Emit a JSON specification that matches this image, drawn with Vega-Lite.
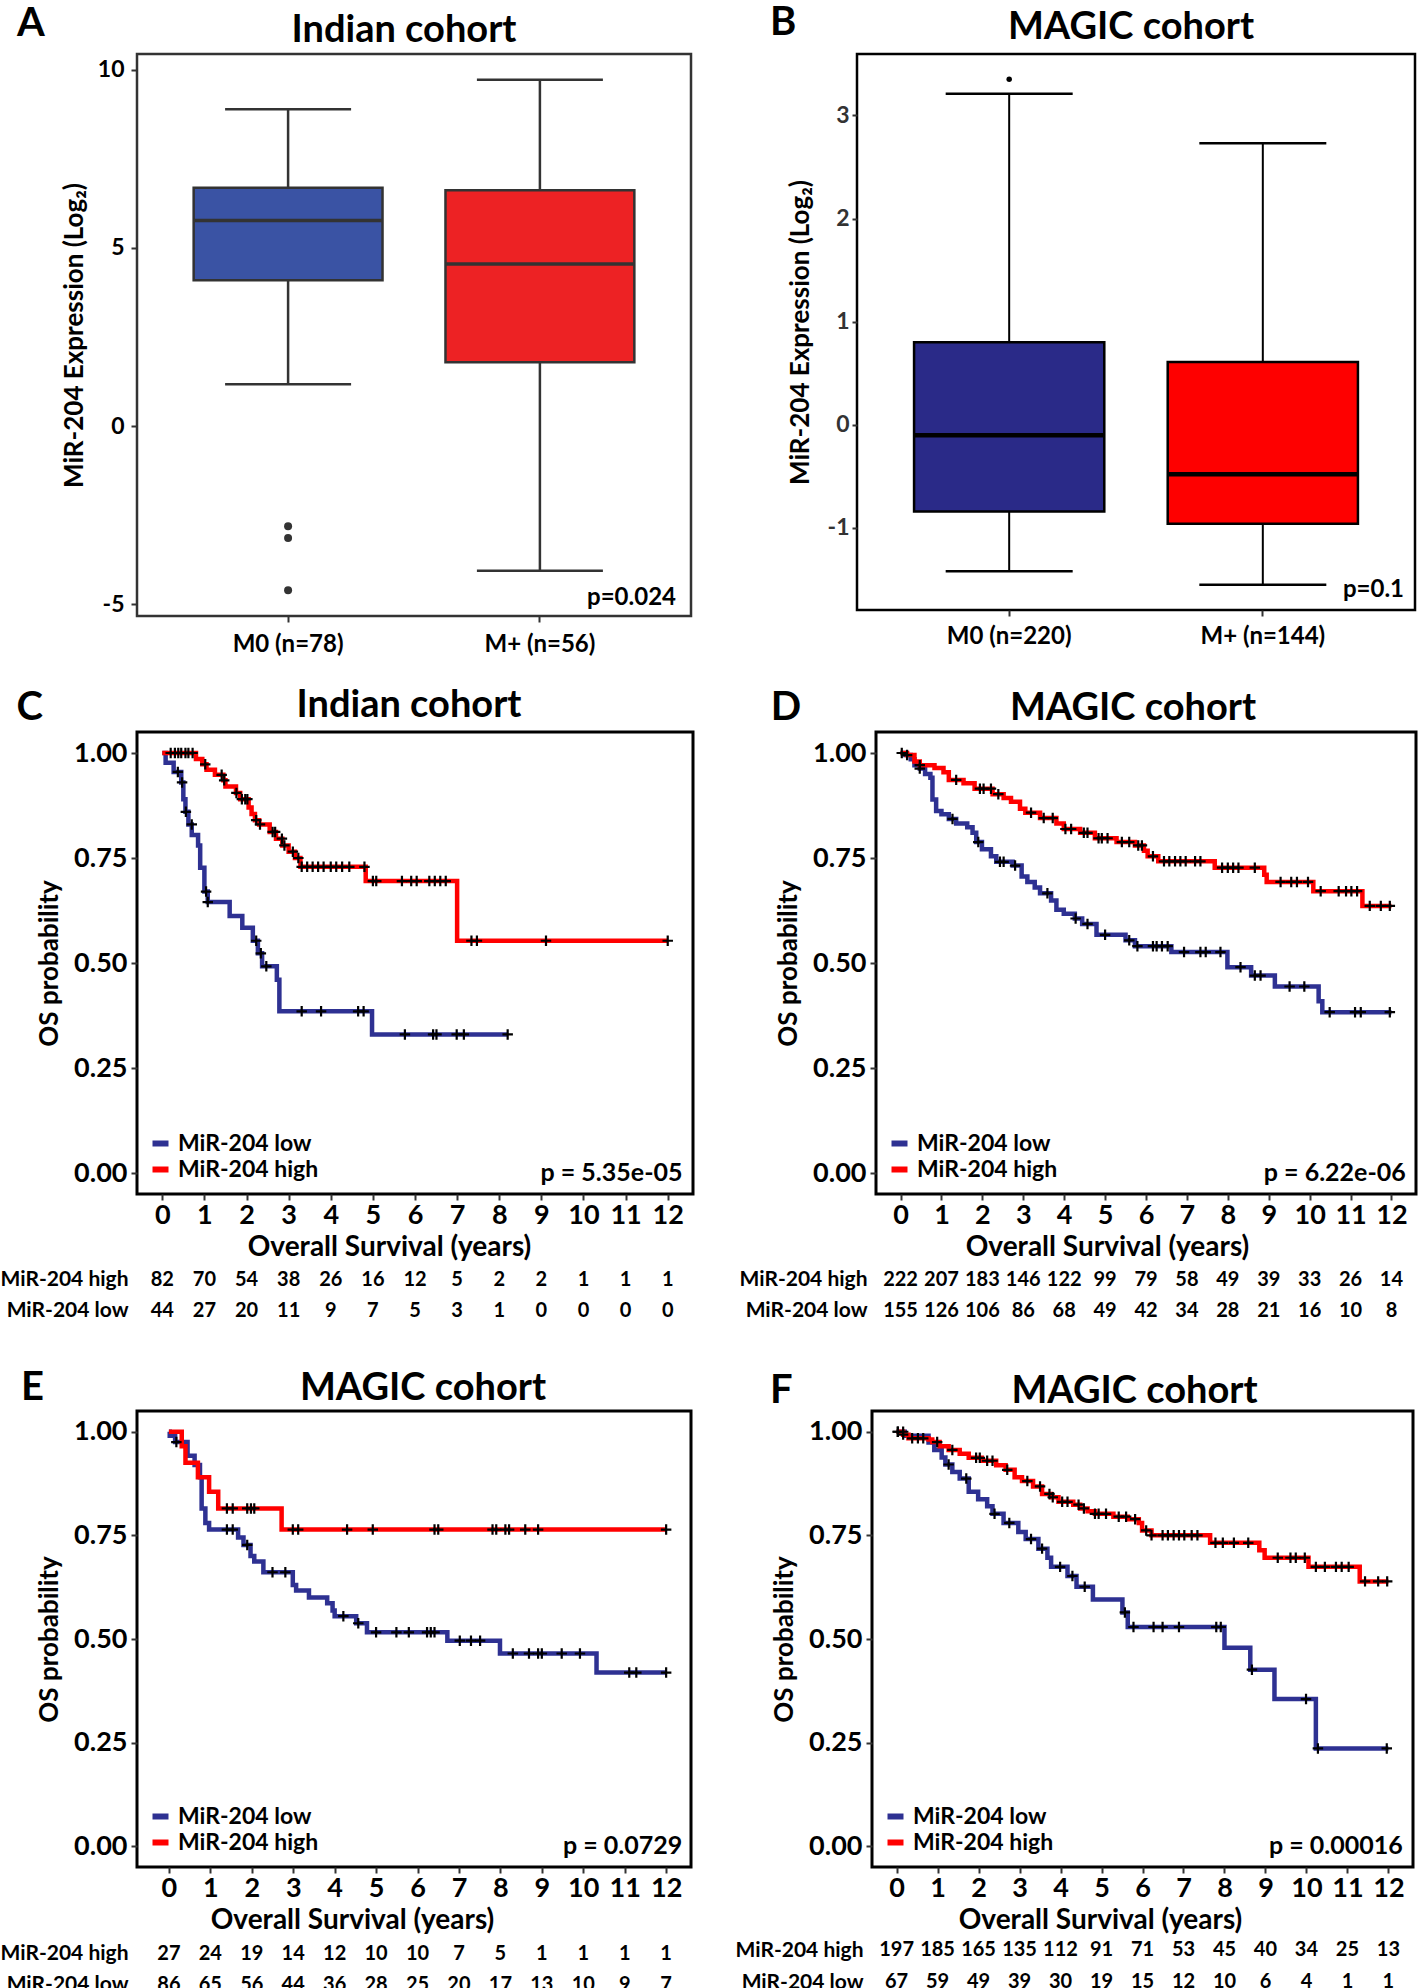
{
"$schema": "https://vega.github.io/schema/vega-lite/v6.json",
"padding": {"left": 0, "top": 1, "right": 0, "bottom": 0},
"config": {
 "font": "Lato",
 "view": {"stroke": "black", "strokeWidth": 3},
 "axis": {"labelFont": "Lato", "titleFont": "Lato", "labelFontWeight": "bold", "titleFontWeight": "bold", "labelColor": "black", "titleColor": "black", "grid": false, "domain": false, "tickColor": "#333333", "tickWidth": 2, "labelOverlap": false, "labelFlush": false},
 "title": {"font": "Lato", "fontWeight": "bold", "fontSize": 38, "color": "black", "anchor": "middle", "frame": "group", "baseline": "alphabetic"},
 "text": {"font": "Lato", "fontWeight": "bold", "color": "black"},
 "legend": {"labelFont": "Lato", "labelFontWeight": "bold", "labelColor": "black"}
},
"datasets": {
 "boxA": [
  {"group": "M0 (n=78)", "lower": 1.17, "q1": 4.09, "median": 5.77, "q3": 6.69, "upper": 8.89},
  {"group": "M+ (n=56)", "lower": -4.06, "q1": 1.79, "median": 4.55, "q3": 6.62, "upper": 9.72}
 ],
 "outA": [
  {"group": "M0 (n=78)", "value": -2.81},
  {"group": "M0 (n=78)", "value": -3.14},
  {"group": "M0 (n=78)", "value": -4.61}
 ],
 "boxB": [
  {"group": "M0 (n=220)", "lower": -1.42, "q1": -0.84, "median": -0.10, "q3": 0.80, "upper": 3.21},
  {"group": "M+ (n=144)", "lower": -1.55, "q1": -0.96, "median": -0.48, "q3": 0.61, "upper": 2.73}
 ],
 "outB": [
  {"group": "M0 (n=220)", "value": 3.35}
 ],
 "kmC": [
  {"group": "MiR-204 low", "time": 0, "surv": 1},
  {"group": "MiR-204 low", "time": 0.08, "surv": 0.977},
  {"group": "MiR-204 low", "time": 0.27, "surv": 0.955},
  {"group": "MiR-204 low", "time": 0.45, "surv": 0.93},
  {"group": "MiR-204 low", "time": 0.5, "surv": 0.89},
  {"group": "MiR-204 low", "time": 0.55, "surv": 0.86},
  {"group": "MiR-204 low", "time": 0.62, "surv": 0.83},
  {"group": "MiR-204 low", "time": 0.7, "surv": 0.805},
  {"group": "MiR-204 low", "time": 0.85, "surv": 0.78},
  {"group": "MiR-204 low", "time": 0.9, "surv": 0.727},
  {"group": "MiR-204 low", "time": 1.0, "surv": 0.67},
  {"group": "MiR-204 low", "time": 1.08, "surv": 0.645},
  {"group": "MiR-204 low", "time": 1.6, "surv": 0.612},
  {"group": "MiR-204 low", "time": 1.9, "surv": 0.584},
  {"group": "MiR-204 low", "time": 2.15, "surv": 0.553},
  {"group": "MiR-204 low", "time": 2.27, "surv": 0.523},
  {"group": "MiR-204 low", "time": 2.37, "surv": 0.492},
  {"group": "MiR-204 low", "time": 2.72, "surv": 0.46},
  {"group": "MiR-204 low", "time": 2.78, "surv": 0.385},
  {"group": "MiR-204 low", "time": 4.98, "surv": 0.33},
  {"group": "MiR-204 low", "time": 8.2, "surv": 0.33},
  {"group": "MiR-204 high", "time": 0, "surv": 1},
  {"group": "MiR-204 high", "time": 0.8, "surv": 0.986},
  {"group": "MiR-204 high", "time": 0.95, "surv": 0.973},
  {"group": "MiR-204 high", "time": 1.05, "surv": 0.96},
  {"group": "MiR-204 high", "time": 1.25, "surv": 0.948},
  {"group": "MiR-204 high", "time": 1.45, "surv": 0.935},
  {"group": "MiR-204 high", "time": 1.5, "surv": 0.92},
  {"group": "MiR-204 high", "time": 1.75, "surv": 0.905},
  {"group": "MiR-204 high", "time": 1.85, "surv": 0.89},
  {"group": "MiR-204 high", "time": 2.05, "surv": 0.87},
  {"group": "MiR-204 high", "time": 2.12, "surv": 0.855},
  {"group": "MiR-204 high", "time": 2.2, "surv": 0.84},
  {"group": "MiR-204 high", "time": 2.3, "surv": 0.83},
  {"group": "MiR-204 high", "time": 2.55, "surv": 0.812},
  {"group": "MiR-204 high", "time": 2.7, "surv": 0.796},
  {"group": "MiR-204 high", "time": 2.85, "surv": 0.78},
  {"group": "MiR-204 high", "time": 3.0, "surv": 0.765},
  {"group": "MiR-204 high", "time": 3.15, "surv": 0.75},
  {"group": "MiR-204 high", "time": 3.28, "surv": 0.729},
  {"group": "MiR-204 high", "time": 4.83, "surv": 0.695},
  {"group": "MiR-204 high", "time": 7.0, "surv": 0.553},
  {"group": "MiR-204 high", "time": 12.0, "surv": 0.553}
 ],
 "censC": [
  {"group": "MiR-204 low", "time": 0.37, "surv": 0.955},
  {"group": "MiR-204 low", "time": 0.47, "surv": 0.93},
  {"group": "MiR-204 low", "time": 0.56, "surv": 0.86},
  {"group": "MiR-204 low", "time": 0.7, "surv": 0.83},
  {"group": "MiR-204 low", "time": 1.04, "surv": 0.67},
  {"group": "MiR-204 low", "time": 1.08, "surv": 0.645},
  {"group": "MiR-204 low", "time": 2.23, "surv": 0.553},
  {"group": "MiR-204 low", "time": 2.34, "surv": 0.523},
  {"group": "MiR-204 low", "time": 2.47, "surv": 0.492},
  {"group": "MiR-204 low", "time": 3.31, "surv": 0.385},
  {"group": "MiR-204 low", "time": 3.77, "surv": 0.385},
  {"group": "MiR-204 low", "time": 4.65, "surv": 0.385},
  {"group": "MiR-204 low", "time": 4.78, "surv": 0.385},
  {"group": "MiR-204 low", "time": 5.76, "surv": 0.33},
  {"group": "MiR-204 low", "time": 6.43, "surv": 0.33},
  {"group": "MiR-204 low", "time": 6.51, "surv": 0.33},
  {"group": "MiR-204 low", "time": 6.99, "surv": 0.33},
  {"group": "MiR-204 low", "time": 7.16, "surv": 0.33},
  {"group": "MiR-204 low", "time": 8.2, "surv": 0.33},
  {"group": "MiR-204 high", "time": 0.2, "surv": 1},
  {"group": "MiR-204 high", "time": 0.3, "surv": 1},
  {"group": "MiR-204 high", "time": 0.38, "surv": 1},
  {"group": "MiR-204 high", "time": 0.45, "surv": 1},
  {"group": "MiR-204 high", "time": 0.55, "surv": 1},
  {"group": "MiR-204 high", "time": 0.62, "surv": 1},
  {"group": "MiR-204 high", "time": 0.72, "surv": 1},
  {"group": "MiR-204 high", "time": 1.02, "surv": 0.973},
  {"group": "MiR-204 high", "time": 1.41, "surv": 0.948},
  {"group": "MiR-204 high", "time": 1.47, "surv": 0.935},
  {"group": "MiR-204 high", "time": 1.76, "surv": 0.905},
  {"group": "MiR-204 high", "time": 1.89, "surv": 0.89},
  {"group": "MiR-204 high", "time": 1.97, "surv": 0.89},
  {"group": "MiR-204 high", "time": 2.02, "surv": 0.89},
  {"group": "MiR-204 high", "time": 2.23, "surv": 0.84},
  {"group": "MiR-204 high", "time": 2.32, "surv": 0.83},
  {"group": "MiR-204 high", "time": 2.62, "surv": 0.812},
  {"group": "MiR-204 high", "time": 2.68, "surv": 0.812},
  {"group": "MiR-204 high", "time": 2.84, "surv": 0.796},
  {"group": "MiR-204 high", "time": 2.9, "surv": 0.78},
  {"group": "MiR-204 high", "time": 3.1, "surv": 0.765},
  {"group": "MiR-204 high", "time": 3.23, "surv": 0.75},
  {"group": "MiR-204 high", "time": 3.31, "surv": 0.729},
  {"group": "MiR-204 high", "time": 3.44, "surv": 0.729},
  {"group": "MiR-204 high", "time": 3.57, "surv": 0.729},
  {"group": "MiR-204 high", "time": 3.7, "surv": 0.729},
  {"group": "MiR-204 high", "time": 3.83, "surv": 0.729},
  {"group": "MiR-204 high", "time": 4.0, "surv": 0.729},
  {"group": "MiR-204 high", "time": 4.13, "surv": 0.729},
  {"group": "MiR-204 high", "time": 4.27, "surv": 0.729},
  {"group": "MiR-204 high", "time": 4.44, "surv": 0.729},
  {"group": "MiR-204 high", "time": 4.8, "surv": 0.729},
  {"group": "MiR-204 high", "time": 5.0, "surv": 0.695},
  {"group": "MiR-204 high", "time": 5.08, "surv": 0.695},
  {"group": "MiR-204 high", "time": 5.69, "surv": 0.695},
  {"group": "MiR-204 high", "time": 5.91, "surv": 0.695},
  {"group": "MiR-204 high", "time": 6.04, "surv": 0.695},
  {"group": "MiR-204 high", "time": 6.34, "surv": 0.695},
  {"group": "MiR-204 high", "time": 6.47, "surv": 0.695},
  {"group": "MiR-204 high", "time": 6.6, "surv": 0.695},
  {"group": "MiR-204 high", "time": 6.73, "surv": 0.695},
  {"group": "MiR-204 high", "time": 7.34, "surv": 0.553},
  {"group": "MiR-204 high", "time": 7.47, "surv": 0.553},
  {"group": "MiR-204 high", "time": 9.11, "surv": 0.553},
  {"group": "MiR-204 high", "time": 12.0, "surv": 0.553}
 ],
 "kmD": [
  {"group": "MiR-204 low", "time": 0, "surv": 1},
  {"group": "MiR-204 low", "time": 0.12, "surv": 0.995},
  {"group": "MiR-204 low", "time": 0.25, "surv": 0.985},
  {"group": "MiR-204 low", "time": 0.34, "surv": 0.971},
  {"group": "MiR-204 low", "time": 0.47, "surv": 0.963},
  {"group": "MiR-204 low", "time": 0.6, "surv": 0.95},
  {"group": "MiR-204 low", "time": 0.73, "surv": 0.941},
  {"group": "MiR-204 low", "time": 0.78, "surv": 0.889},
  {"group": "MiR-204 low", "time": 0.87, "surv": 0.862},
  {"group": "MiR-204 low", "time": 1.0, "surv": 0.854},
  {"group": "MiR-204 low", "time": 1.18, "surv": 0.843},
  {"group": "MiR-204 low", "time": 1.36, "surv": 0.832},
  {"group": "MiR-204 low", "time": 1.63, "surv": 0.823},
  {"group": "MiR-204 low", "time": 1.76, "surv": 0.81},
  {"group": "MiR-204 low", "time": 1.85, "surv": 0.788},
  {"group": "MiR-204 low", "time": 1.99, "surv": 0.771},
  {"group": "MiR-204 low", "time": 2.21, "surv": 0.754},
  {"group": "MiR-204 low", "time": 2.34, "surv": 0.741},
  {"group": "MiR-204 low", "time": 2.74, "surv": 0.732},
  {"group": "MiR-204 low", "time": 2.96, "surv": 0.706},
  {"group": "MiR-204 low", "time": 3.1, "surv": 0.693},
  {"group": "MiR-204 low", "time": 3.28, "surv": 0.68},
  {"group": "MiR-204 low", "time": 3.41, "surv": 0.666},
  {"group": "MiR-204 low", "time": 3.68, "surv": 0.649},
  {"group": "MiR-204 low", "time": 3.81, "surv": 0.627},
  {"group": "MiR-204 low", "time": 3.99, "surv": 0.617},
  {"group": "MiR-204 low", "time": 4.26, "surv": 0.606},
  {"group": "MiR-204 low", "time": 4.44, "surv": 0.593},
  {"group": "MiR-204 low", "time": 4.79, "surv": 0.567},
  {"group": "MiR-204 low", "time": 5.5, "surv": 0.554},
  {"group": "MiR-204 low", "time": 5.73, "surv": 0.54},
  {"group": "MiR-204 low", "time": 6.62, "surv": 0.526},
  {"group": "MiR-204 low", "time": 7.99, "surv": 0.49},
  {"group": "MiR-204 low", "time": 8.57, "surv": 0.47},
  {"group": "MiR-204 low", "time": 9.15, "surv": 0.444},
  {"group": "MiR-204 low", "time": 10.22, "surv": 0.409},
  {"group": "MiR-204 low", "time": 10.31, "surv": 0.383},
  {"group": "MiR-204 low", "time": 12.0, "surv": 0.383},
  {"group": "MiR-204 high", "time": 0, "surv": 1},
  {"group": "MiR-204 high", "time": 0.16, "surv": 0.995},
  {"group": "MiR-204 high", "time": 0.34, "surv": 0.98},
  {"group": "MiR-204 high", "time": 0.47, "surv": 0.971},
  {"group": "MiR-204 high", "time": 0.83, "surv": 0.964},
  {"group": "MiR-204 high", "time": 1.05, "surv": 0.954},
  {"group": "MiR-204 high", "time": 1.18, "surv": 0.936},
  {"group": "MiR-204 high", "time": 1.54, "surv": 0.928},
  {"group": "MiR-204 high", "time": 1.81, "surv": 0.915},
  {"group": "MiR-204 high", "time": 2.25, "surv": 0.902},
  {"group": "MiR-204 high", "time": 2.52, "surv": 0.893},
  {"group": "MiR-204 high", "time": 2.7, "surv": 0.884},
  {"group": "MiR-204 high", "time": 2.92, "surv": 0.867},
  {"group": "MiR-204 high", "time": 3.05, "surv": 0.858},
  {"group": "MiR-204 high", "time": 3.41, "surv": 0.845},
  {"group": "MiR-204 high", "time": 3.81, "surv": 0.832},
  {"group": "MiR-204 high", "time": 3.99, "surv": 0.819},
  {"group": "MiR-204 high", "time": 4.39, "surv": 0.81},
  {"group": "MiR-204 high", "time": 4.75, "surv": 0.797},
  {"group": "MiR-204 high", "time": 5.28, "surv": 0.788},
  {"group": "MiR-204 high", "time": 5.73, "surv": 0.78},
  {"group": "MiR-204 high", "time": 5.95, "surv": 0.767},
  {"group": "MiR-204 high", "time": 6.04, "surv": 0.754},
  {"group": "MiR-204 high", "time": 6.3, "surv": 0.742},
  {"group": "MiR-204 high", "time": 7.68, "surv": 0.727},
  {"group": "MiR-204 high", "time": 8.89, "surv": 0.71},
  {"group": "MiR-204 high", "time": 8.95, "surv": 0.693},
  {"group": "MiR-204 high", "time": 10.09, "surv": 0.671},
  {"group": "MiR-204 high", "time": 11.29, "surv": 0.636},
  {"group": "MiR-204 high", "time": 12.0, "surv": 0.636}
 ],
 "censD": [
  {"group": "MiR-204 low", "time": 0.03, "surv": 1},
  {"group": "MiR-204 low", "time": 0.47, "surv": 0.963},
  {"group": "MiR-204 low", "time": 1.27, "surv": 0.843},
  {"group": "MiR-204 low", "time": 1.9, "surv": 0.788},
  {"group": "MiR-204 low", "time": 2.43, "surv": 0.741},
  {"group": "MiR-204 low", "time": 2.52, "surv": 0.741},
  {"group": "MiR-204 low", "time": 2.8, "surv": 0.732},
  {"group": "MiR-204 low", "time": 3.59, "surv": 0.666},
  {"group": "MiR-204 low", "time": 4.28, "surv": 0.606},
  {"group": "MiR-204 low", "time": 4.57, "surv": 0.593},
  {"group": "MiR-204 low", "time": 5.0, "surv": 0.567},
  {"group": "MiR-204 low", "time": 5.59, "surv": 0.554},
  {"group": "MiR-204 low", "time": 5.79, "surv": 0.54},
  {"group": "MiR-204 low", "time": 6.17, "surv": 0.54},
  {"group": "MiR-204 low", "time": 6.26, "surv": 0.54},
  {"group": "MiR-204 low", "time": 6.39, "surv": 0.54},
  {"group": "MiR-204 low", "time": 6.53, "surv": 0.54},
  {"group": "MiR-204 low", "time": 6.93, "surv": 0.526},
  {"group": "MiR-204 low", "time": 7.33, "surv": 0.526},
  {"group": "MiR-204 low", "time": 7.46, "surv": 0.526},
  {"group": "MiR-204 low", "time": 7.82, "surv": 0.526},
  {"group": "MiR-204 low", "time": 8.31, "surv": 0.49},
  {"group": "MiR-204 low", "time": 8.66, "surv": 0.47},
  {"group": "MiR-204 low", "time": 8.8, "surv": 0.47},
  {"group": "MiR-204 low", "time": 9.51, "surv": 0.444},
  {"group": "MiR-204 low", "time": 9.87, "surv": 0.444},
  {"group": "MiR-204 low", "time": 10.49, "surv": 0.383},
  {"group": "MiR-204 low", "time": 11.11, "surv": 0.383},
  {"group": "MiR-204 low", "time": 11.25, "surv": 0.383},
  {"group": "MiR-204 low", "time": 11.96, "surv": 0.383},
  {"group": "MiR-204 high", "time": 0.16, "surv": 0.995},
  {"group": "MiR-204 high", "time": 0.47, "surv": 0.971},
  {"group": "MiR-204 high", "time": 1.36, "surv": 0.936},
  {"group": "MiR-204 high", "time": 1.94, "surv": 0.915},
  {"group": "MiR-204 high", "time": 2.03, "surv": 0.915},
  {"group": "MiR-204 high", "time": 2.21, "surv": 0.915},
  {"group": "MiR-204 high", "time": 2.39, "surv": 0.902},
  {"group": "MiR-204 high", "time": 3.19, "surv": 0.858},
  {"group": "MiR-204 high", "time": 3.5, "surv": 0.845},
  {"group": "MiR-204 high", "time": 3.72, "surv": 0.845},
  {"group": "MiR-204 high", "time": 4.03, "surv": 0.819},
  {"group": "MiR-204 high", "time": 4.17, "surv": 0.819},
  {"group": "MiR-204 high", "time": 4.48, "surv": 0.81},
  {"group": "MiR-204 high", "time": 4.57, "surv": 0.81},
  {"group": "MiR-204 high", "time": 4.84, "surv": 0.797},
  {"group": "MiR-204 high", "time": 4.92, "surv": 0.797},
  {"group": "MiR-204 high", "time": 5.06, "surv": 0.797},
  {"group": "MiR-204 high", "time": 5.41, "surv": 0.788},
  {"group": "MiR-204 high", "time": 5.59, "surv": 0.788},
  {"group": "MiR-204 high", "time": 5.81, "surv": 0.78},
  {"group": "MiR-204 high", "time": 5.9, "surv": 0.78},
  {"group": "MiR-204 high", "time": 6.17, "surv": 0.754},
  {"group": "MiR-204 high", "time": 6.44, "surv": 0.742},
  {"group": "MiR-204 high", "time": 6.57, "surv": 0.742},
  {"group": "MiR-204 high", "time": 6.71, "surv": 0.742},
  {"group": "MiR-204 high", "time": 6.84, "surv": 0.742},
  {"group": "MiR-204 high", "time": 6.97, "surv": 0.742},
  {"group": "MiR-204 high", "time": 7.2, "surv": 0.742},
  {"group": "MiR-204 high", "time": 7.33, "surv": 0.742},
  {"group": "MiR-204 high", "time": 7.86, "surv": 0.727},
  {"group": "MiR-204 high", "time": 8.0, "surv": 0.727},
  {"group": "MiR-204 high", "time": 8.13, "surv": 0.727},
  {"group": "MiR-204 high", "time": 8.26, "surv": 0.727},
  {"group": "MiR-204 high", "time": 8.66, "surv": 0.727},
  {"group": "MiR-204 high", "time": 9.29, "surv": 0.693},
  {"group": "MiR-204 high", "time": 9.55, "surv": 0.693},
  {"group": "MiR-204 high", "time": 9.69, "surv": 0.693},
  {"group": "MiR-204 high", "time": 9.96, "surv": 0.693},
  {"group": "MiR-204 high", "time": 10.27, "surv": 0.671},
  {"group": "MiR-204 high", "time": 10.71, "surv": 0.671},
  {"group": "MiR-204 high", "time": 10.89, "surv": 0.671},
  {"group": "MiR-204 high", "time": 11.02, "surv": 0.671},
  {"group": "MiR-204 high", "time": 11.16, "surv": 0.671},
  {"group": "MiR-204 high", "time": 11.47, "surv": 0.636},
  {"group": "MiR-204 high", "time": 11.74, "surv": 0.636},
  {"group": "MiR-204 high", "time": 11.96, "surv": 0.636}
 ],
 "kmE": [
  {"group": "MiR-204 low", "time": 0, "surv": 1},
  {"group": "MiR-204 low", "time": 0.02, "surv": 0.99},
  {"group": "MiR-204 low", "time": 0.15, "surv": 0.975},
  {"group": "MiR-204 low", "time": 0.45, "surv": 0.942},
  {"group": "MiR-204 low", "time": 0.62, "surv": 0.92},
  {"group": "MiR-204 low", "time": 0.75, "surv": 0.89},
  {"group": "MiR-204 low", "time": 0.79, "surv": 0.815},
  {"group": "MiR-204 low", "time": 0.88, "surv": 0.78},
  {"group": "MiR-204 low", "time": 0.97, "surv": 0.764},
  {"group": "MiR-204 low", "time": 1.67, "surv": 0.745},
  {"group": "MiR-204 low", "time": 1.8, "surv": 0.727},
  {"group": "MiR-204 low", "time": 1.97, "surv": 0.7},
  {"group": "MiR-204 low", "time": 2.06, "surv": 0.687},
  {"group": "MiR-204 low", "time": 2.28, "surv": 0.661},
  {"group": "MiR-204 low", "time": 2.99, "surv": 0.63},
  {"group": "MiR-204 low", "time": 3.07, "surv": 0.617},
  {"group": "MiR-204 low", "time": 3.38, "surv": 0.6},
  {"group": "MiR-204 low", "time": 3.82, "surv": 0.586},
  {"group": "MiR-204 low", "time": 3.95, "surv": 0.569},
  {"group": "MiR-204 low", "time": 4.0, "surv": 0.555},
  {"group": "MiR-204 low", "time": 4.52, "surv": 0.538},
  {"group": "MiR-204 low", "time": 4.78, "surv": 0.516},
  {"group": "MiR-204 low", "time": 6.72, "surv": 0.496},
  {"group": "MiR-204 low", "time": 7.99, "surv": 0.465},
  {"group": "MiR-204 low", "time": 10.32, "surv": 0.419},
  {"group": "MiR-204 low", "time": 12.0, "surv": 0.419},
  {"group": "MiR-204 high", "time": 0, "surv": 1},
  {"group": "MiR-204 high", "time": 0.31, "surv": 0.965},
  {"group": "MiR-204 high", "time": 0.4, "surv": 0.925},
  {"group": "MiR-204 high", "time": 0.7, "surv": 0.89},
  {"group": "MiR-204 high", "time": 0.97, "surv": 0.855},
  {"group": "MiR-204 high", "time": 1.19, "surv": 0.815},
  {"group": "MiR-204 high", "time": 2.72, "surv": 0.764},
  {"group": "MiR-204 high", "time": 12.0, "surv": 0.764}
 ],
 "censE": [
  {"group": "MiR-204 low", "time": 0.18, "surv": 0.975},
  {"group": "MiR-204 low", "time": 1.4, "surv": 0.764},
  {"group": "MiR-204 low", "time": 1.54, "surv": 0.764},
  {"group": "MiR-204 low", "time": 1.89, "surv": 0.727},
  {"group": "MiR-204 low", "time": 2.5, "surv": 0.661},
  {"group": "MiR-204 low", "time": 2.81, "surv": 0.661},
  {"group": "MiR-204 low", "time": 4.21, "surv": 0.555},
  {"group": "MiR-204 low", "time": 4.57, "surv": 0.538},
  {"group": "MiR-204 low", "time": 5.0, "surv": 0.516},
  {"group": "MiR-204 low", "time": 5.49, "surv": 0.516},
  {"group": "MiR-204 low", "time": 5.79, "surv": 0.516},
  {"group": "MiR-204 low", "time": 6.23, "surv": 0.516},
  {"group": "MiR-204 low", "time": 6.32, "surv": 0.516},
  {"group": "MiR-204 low", "time": 6.41, "surv": 0.516},
  {"group": "MiR-204 low", "time": 7.02, "surv": 0.496},
  {"group": "MiR-204 low", "time": 7.29, "surv": 0.496},
  {"group": "MiR-204 low", "time": 7.51, "surv": 0.496},
  {"group": "MiR-204 low", "time": 8.3, "surv": 0.465},
  {"group": "MiR-204 low", "time": 8.69, "surv": 0.465},
  {"group": "MiR-204 low", "time": 8.91, "surv": 0.465},
  {"group": "MiR-204 low", "time": 9.0, "surv": 0.465},
  {"group": "MiR-204 low", "time": 9.48, "surv": 0.465},
  {"group": "MiR-204 low", "time": 9.92, "surv": 0.465},
  {"group": "MiR-204 low", "time": 11.11, "surv": 0.419},
  {"group": "MiR-204 low", "time": 11.28, "surv": 0.419},
  {"group": "MiR-204 low", "time": 12.0, "surv": 0.419},
  {"group": "MiR-204 high", "time": 1.4, "surv": 0.815},
  {"group": "MiR-204 high", "time": 1.54, "surv": 0.815},
  {"group": "MiR-204 high", "time": 1.89, "surv": 0.815},
  {"group": "MiR-204 high", "time": 1.98, "surv": 0.815},
  {"group": "MiR-204 high", "time": 2.06, "surv": 0.815},
  {"group": "MiR-204 high", "time": 2.99, "surv": 0.764},
  {"group": "MiR-204 high", "time": 3.12, "surv": 0.764},
  {"group": "MiR-204 high", "time": 4.3, "surv": 0.764},
  {"group": "MiR-204 high", "time": 4.92, "surv": 0.764},
  {"group": "MiR-204 high", "time": 6.41, "surv": 0.764},
  {"group": "MiR-204 high", "time": 6.5, "surv": 0.764},
  {"group": "MiR-204 high", "time": 7.81, "surv": 0.764},
  {"group": "MiR-204 high", "time": 7.9, "surv": 0.764},
  {"group": "MiR-204 high", "time": 8.12, "surv": 0.764},
  {"group": "MiR-204 high", "time": 8.21, "surv": 0.764},
  {"group": "MiR-204 high", "time": 8.6, "surv": 0.764},
  {"group": "MiR-204 high", "time": 8.91, "surv": 0.764},
  {"group": "MiR-204 high", "time": 12.0, "surv": 0.764}
 ],
 "kmF": [
  {"group": "MiR-204 low", "time": 0, "surv": 1},
  {"group": "MiR-204 low", "time": 0.2, "surv": 0.99},
  {"group": "MiR-204 low", "time": 0.78, "surv": 0.974},
  {"group": "MiR-204 low", "time": 0.92, "surv": 0.956},
  {"group": "MiR-204 low", "time": 1.1, "surv": 0.938},
  {"group": "MiR-204 low", "time": 1.19, "surv": 0.921},
  {"group": "MiR-204 low", "time": 1.36, "surv": 0.903},
  {"group": "MiR-204 low", "time": 1.54, "surv": 0.887},
  {"group": "MiR-204 low", "time": 1.76, "surv": 0.855},
  {"group": "MiR-204 low", "time": 1.99, "surv": 0.837},
  {"group": "MiR-204 low", "time": 2.21, "surv": 0.82},
  {"group": "MiR-204 low", "time": 2.34, "surv": 0.802},
  {"group": "MiR-204 low", "time": 2.61, "surv": 0.78},
  {"group": "MiR-204 low", "time": 2.97, "surv": 0.758},
  {"group": "MiR-204 low", "time": 3.15, "surv": 0.741},
  {"group": "MiR-204 low", "time": 3.46, "surv": 0.718},
  {"group": "MiR-204 low", "time": 3.68, "surv": 0.696},
  {"group": "MiR-204 low", "time": 3.77, "surv": 0.674},
  {"group": "MiR-204 low", "time": 4.17, "surv": 0.652},
  {"group": "MiR-204 low", "time": 4.39, "surv": 0.626},
  {"group": "MiR-204 low", "time": 4.79, "surv": 0.595},
  {"group": "MiR-204 low", "time": 5.51, "surv": 0.564},
  {"group": "MiR-204 low", "time": 5.64, "surv": 0.529},
  {"group": "MiR-204 low", "time": 8.0, "surv": 0.479},
  {"group": "MiR-204 low", "time": 8.63, "surv": 0.426},
  {"group": "MiR-204 low", "time": 9.22, "surv": 0.355},
  {"group": "MiR-204 low", "time": 10.23, "surv": 0.236},
  {"group": "MiR-204 low", "time": 12.0, "surv": 0.236},
  {"group": "MiR-204 high", "time": 0, "surv": 1},
  {"group": "MiR-204 high", "time": 0.16, "surv": 0.993},
  {"group": "MiR-204 high", "time": 0.29, "surv": 0.984},
  {"group": "MiR-204 high", "time": 0.78, "surv": 0.981},
  {"group": "MiR-204 high", "time": 0.87, "surv": 0.975},
  {"group": "MiR-204 high", "time": 1.05, "surv": 0.965},
  {"group": "MiR-204 high", "time": 1.27, "surv": 0.956},
  {"group": "MiR-204 high", "time": 1.54, "surv": 0.947},
  {"group": "MiR-204 high", "time": 1.76, "surv": 0.937},
  {"group": "MiR-204 high", "time": 2.08, "surv": 0.93},
  {"group": "MiR-204 high", "time": 2.43, "surv": 0.919},
  {"group": "MiR-204 high", "time": 2.66, "surv": 0.908},
  {"group": "MiR-204 high", "time": 2.88, "surv": 0.89},
  {"group": "MiR-204 high", "time": 3.06, "surv": 0.881},
  {"group": "MiR-204 high", "time": 3.33, "surv": 0.868},
  {"group": "MiR-204 high", "time": 3.55, "surv": 0.85},
  {"group": "MiR-204 high", "time": 3.77, "surv": 0.842},
  {"group": "MiR-204 high", "time": 3.95, "surv": 0.831},
  {"group": "MiR-204 high", "time": 4.31, "surv": 0.824},
  {"group": "MiR-204 high", "time": 4.48, "surv": 0.815},
  {"group": "MiR-204 high", "time": 4.66, "surv": 0.808},
  {"group": "MiR-204 high", "time": 4.84, "surv": 0.802},
  {"group": "MiR-204 high", "time": 5.29, "surv": 0.795},
  {"group": "MiR-204 high", "time": 5.64, "surv": 0.789},
  {"group": "MiR-204 high", "time": 5.91, "surv": 0.78},
  {"group": "MiR-204 high", "time": 5.99, "surv": 0.762},
  {"group": "MiR-204 high", "time": 6.22, "surv": 0.75},
  {"group": "MiR-204 high", "time": 7.65, "surv": 0.732},
  {"group": "MiR-204 high", "time": 8.85, "surv": 0.714},
  {"group": "MiR-204 high", "time": 8.98, "surv": 0.696},
  {"group": "MiR-204 high", "time": 10.05, "surv": 0.674},
  {"group": "MiR-204 high", "time": 11.3, "surv": 0.639},
  {"group": "MiR-204 high", "time": 12.0, "surv": 0.639}
 ],
 "censF": [
  {"group": "MiR-204 low", "time": 0.03, "surv": 1},
  {"group": "MiR-204 low", "time": 0.16, "surv": 1},
  {"group": "MiR-204 low", "time": 1.27, "surv": 0.921},
  {"group": "MiR-204 low", "time": 1.7, "surv": 0.887},
  {"group": "MiR-204 low", "time": 2.39, "surv": 0.802},
  {"group": "MiR-204 low", "time": 2.75, "surv": 0.78},
  {"group": "MiR-204 low", "time": 3.28, "surv": 0.741},
  {"group": "MiR-204 low", "time": 3.55, "surv": 0.718},
  {"group": "MiR-204 low", "time": 3.99, "surv": 0.674},
  {"group": "MiR-204 low", "time": 4.29, "surv": 0.652},
  {"group": "MiR-204 low", "time": 4.59, "surv": 0.626},
  {"group": "MiR-204 low", "time": 5.57, "surv": 0.564},
  {"group": "MiR-204 low", "time": 5.78, "surv": 0.529},
  {"group": "MiR-204 low", "time": 6.27, "surv": 0.529},
  {"group": "MiR-204 low", "time": 6.49, "surv": 0.529},
  {"group": "MiR-204 low", "time": 6.89, "surv": 0.529},
  {"group": "MiR-204 low", "time": 7.8, "surv": 0.529},
  {"group": "MiR-204 low", "time": 7.91, "surv": 0.529},
  {"group": "MiR-204 low", "time": 8.67, "surv": 0.426},
  {"group": "MiR-204 low", "time": 9.99, "surv": 0.355},
  {"group": "MiR-204 low", "time": 10.28, "surv": 0.236},
  {"group": "MiR-204 low", "time": 11.96, "surv": 0.236},
  {"group": "MiR-204 high", "time": 0.03, "surv": 1},
  {"group": "MiR-204 high", "time": 0.16, "surv": 0.993},
  {"group": "MiR-204 high", "time": 0.38, "surv": 0.984},
  {"group": "MiR-204 high", "time": 0.52, "surv": 0.984},
  {"group": "MiR-204 high", "time": 0.65, "surv": 0.984},
  {"group": "MiR-204 high", "time": 0.99, "surv": 0.975},
  {"group": "MiR-204 high", "time": 1.36, "surv": 0.956},
  {"group": "MiR-204 high", "time": 1.94, "surv": 0.937},
  {"group": "MiR-204 high", "time": 2.03, "surv": 0.937},
  {"group": "MiR-204 high", "time": 2.21, "surv": 0.93},
  {"group": "MiR-204 high", "time": 2.34, "surv": 0.93},
  {"group": "MiR-204 high", "time": 2.7, "surv": 0.908},
  {"group": "MiR-204 high", "time": 3.19, "surv": 0.881},
  {"group": "MiR-204 high", "time": 3.5, "surv": 0.868},
  {"group": "MiR-204 high", "time": 3.73, "surv": 0.85},
  {"group": "MiR-204 high", "time": 3.81, "surv": 0.842},
  {"group": "MiR-204 high", "time": 4.04, "surv": 0.831},
  {"group": "MiR-204 high", "time": 4.17, "surv": 0.831},
  {"group": "MiR-204 high", "time": 4.44, "surv": 0.824},
  {"group": "MiR-204 high", "time": 4.57, "surv": 0.815},
  {"group": "MiR-204 high", "time": 4.84, "surv": 0.802},
  {"group": "MiR-204 high", "time": 4.93, "surv": 0.802},
  {"group": "MiR-204 high", "time": 5.11, "surv": 0.802},
  {"group": "MiR-204 high", "time": 5.42, "surv": 0.795},
  {"group": "MiR-204 high", "time": 5.6, "surv": 0.795},
  {"group": "MiR-204 high", "time": 5.82, "surv": 0.789},
  {"group": "MiR-204 high", "time": 6.09, "surv": 0.762},
  {"group": "MiR-204 high", "time": 6.22, "surv": 0.75},
  {"group": "MiR-204 high", "time": 6.49, "surv": 0.75},
  {"group": "MiR-204 high", "time": 6.62, "surv": 0.75},
  {"group": "MiR-204 high", "time": 6.76, "surv": 0.75},
  {"group": "MiR-204 high", "time": 6.89, "surv": 0.75},
  {"group": "MiR-204 high", "time": 7.02, "surv": 0.75},
  {"group": "MiR-204 high", "time": 7.2, "surv": 0.75},
  {"group": "MiR-204 high", "time": 7.34, "surv": 0.75},
  {"group": "MiR-204 high", "time": 7.78, "surv": 0.732},
  {"group": "MiR-204 high", "time": 7.96, "surv": 0.732},
  {"group": "MiR-204 high", "time": 8.23, "surv": 0.732},
  {"group": "MiR-204 high", "time": 8.58, "surv": 0.732},
  {"group": "MiR-204 high", "time": 9.3, "surv": 0.696},
  {"group": "MiR-204 high", "time": 9.61, "surv": 0.696},
  {"group": "MiR-204 high", "time": 9.74, "surv": 0.696},
  {"group": "MiR-204 high", "time": 9.96, "surv": 0.696},
  {"group": "MiR-204 high", "time": 10.23, "surv": 0.674},
  {"group": "MiR-204 high", "time": 10.45, "surv": 0.674},
  {"group": "MiR-204 high", "time": 10.72, "surv": 0.674},
  {"group": "MiR-204 high", "time": 10.86, "surv": 0.674},
  {"group": "MiR-204 high", "time": 11.03, "surv": 0.674},
  {"group": "MiR-204 high", "time": 11.43, "surv": 0.639},
  {"group": "MiR-204 high", "time": 11.75, "surv": 0.639},
  {"group": "MiR-204 high", "time": 11.97, "surv": 0.639}
 ],
 "riskC": [
  {"group": "MiR-204 high", "time": 0, "n": 82}, {"group": "MiR-204 high", "time": 1, "n": 70}, {"group": "MiR-204 high", "time": 2, "n": 54}, {"group": "MiR-204 high", "time": 3, "n": 38}, {"group": "MiR-204 high", "time": 4, "n": 26}, {"group": "MiR-204 high", "time": 5, "n": 16}, {"group": "MiR-204 high", "time": 6, "n": 12}, {"group": "MiR-204 high", "time": 7, "n": 5}, {"group": "MiR-204 high", "time": 8, "n": 2}, {"group": "MiR-204 high", "time": 9, "n": 2}, {"group": "MiR-204 high", "time": 10, "n": 1}, {"group": "MiR-204 high", "time": 11, "n": 1}, {"group": "MiR-204 high", "time": 12, "n": 1},
  {"group": "MiR-204 low", "time": 0, "n": 44}, {"group": "MiR-204 low", "time": 1, "n": 27}, {"group": "MiR-204 low", "time": 2, "n": 20}, {"group": "MiR-204 low", "time": 3, "n": 11}, {"group": "MiR-204 low", "time": 4, "n": 9}, {"group": "MiR-204 low", "time": 5, "n": 7}, {"group": "MiR-204 low", "time": 6, "n": 5}, {"group": "MiR-204 low", "time": 7, "n": 3}, {"group": "MiR-204 low", "time": 8, "n": 1}, {"group": "MiR-204 low", "time": 9, "n": 0}, {"group": "MiR-204 low", "time": 10, "n": 0}, {"group": "MiR-204 low", "time": 11, "n": 0}, {"group": "MiR-204 low", "time": 12, "n": 0}
 ],
 "riskD": [
  {"group": "MiR-204 high", "time": 0, "n": 222}, {"group": "MiR-204 high", "time": 1, "n": 207}, {"group": "MiR-204 high", "time": 2, "n": 183}, {"group": "MiR-204 high", "time": 3, "n": 146}, {"group": "MiR-204 high", "time": 4, "n": 122}, {"group": "MiR-204 high", "time": 5, "n": 99}, {"group": "MiR-204 high", "time": 6, "n": 79}, {"group": "MiR-204 high", "time": 7, "n": 58}, {"group": "MiR-204 high", "time": 8, "n": 49}, {"group": "MiR-204 high", "time": 9, "n": 39}, {"group": "MiR-204 high", "time": 10, "n": 33}, {"group": "MiR-204 high", "time": 11, "n": 26}, {"group": "MiR-204 high", "time": 12, "n": 14},
  {"group": "MiR-204 low", "time": 0, "n": 155}, {"group": "MiR-204 low", "time": 1, "n": 126}, {"group": "MiR-204 low", "time": 2, "n": 106}, {"group": "MiR-204 low", "time": 3, "n": 86}, {"group": "MiR-204 low", "time": 4, "n": 68}, {"group": "MiR-204 low", "time": 5, "n": 49}, {"group": "MiR-204 low", "time": 6, "n": 42}, {"group": "MiR-204 low", "time": 7, "n": 34}, {"group": "MiR-204 low", "time": 8, "n": 28}, {"group": "MiR-204 low", "time": 9, "n": 21}, {"group": "MiR-204 low", "time": 10, "n": 16}, {"group": "MiR-204 low", "time": 11, "n": 10}, {"group": "MiR-204 low", "time": 12, "n": 8}
 ],
 "riskE": [
  {"group": "MiR-204 high", "time": 0, "n": 27}, {"group": "MiR-204 high", "time": 1, "n": 24}, {"group": "MiR-204 high", "time": 2, "n": 19}, {"group": "MiR-204 high", "time": 3, "n": 14}, {"group": "MiR-204 high", "time": 4, "n": 12}, {"group": "MiR-204 high", "time": 5, "n": 10}, {"group": "MiR-204 high", "time": 6, "n": 10}, {"group": "MiR-204 high", "time": 7, "n": 7}, {"group": "MiR-204 high", "time": 8, "n": 5}, {"group": "MiR-204 high", "time": 9, "n": 1}, {"group": "MiR-204 high", "time": 10, "n": 1}, {"group": "MiR-204 high", "time": 11, "n": 1}, {"group": "MiR-204 high", "time": 12, "n": 1},
  {"group": "MiR-204 low", "time": 0, "n": 86}, {"group": "MiR-204 low", "time": 1, "n": 65}, {"group": "MiR-204 low", "time": 2, "n": 56}, {"group": "MiR-204 low", "time": 3, "n": 44}, {"group": "MiR-204 low", "time": 4, "n": 36}, {"group": "MiR-204 low", "time": 5, "n": 28}, {"group": "MiR-204 low", "time": 6, "n": 25}, {"group": "MiR-204 low", "time": 7, "n": 20}, {"group": "MiR-204 low", "time": 8, "n": 17}, {"group": "MiR-204 low", "time": 9, "n": 13}, {"group": "MiR-204 low", "time": 10, "n": 10}, {"group": "MiR-204 low", "time": 11, "n": 9}, {"group": "MiR-204 low", "time": 12, "n": 7}
 ],
 "riskF": [
  {"group": "MiR-204 high", "time": 0, "n": 197}, {"group": "MiR-204 high", "time": 1, "n": 185}, {"group": "MiR-204 high", "time": 2, "n": 165}, {"group": "MiR-204 high", "time": 3, "n": 135}, {"group": "MiR-204 high", "time": 4, "n": 112}, {"group": "MiR-204 high", "time": 5, "n": 91}, {"group": "MiR-204 high", "time": 6, "n": 71}, {"group": "MiR-204 high", "time": 7, "n": 53}, {"group": "MiR-204 high", "time": 8, "n": 45}, {"group": "MiR-204 high", "time": 9, "n": 40}, {"group": "MiR-204 high", "time": 10, "n": 34}, {"group": "MiR-204 high", "time": 11, "n": 25}, {"group": "MiR-204 high", "time": 12, "n": 13},
  {"group": "MiR-204 low", "time": 0, "n": 67}, {"group": "MiR-204 low", "time": 1, "n": 59}, {"group": "MiR-204 low", "time": 2, "n": 49}, {"group": "MiR-204 low", "time": 3, "n": 39}, {"group": "MiR-204 low", "time": 4, "n": 30}, {"group": "MiR-204 low", "time": 5, "n": 19}, {"group": "MiR-204 low", "time": 6, "n": 15}, {"group": "MiR-204 low", "time": 7, "n": 12}, {"group": "MiR-204 low", "time": 8, "n": 10}, {"group": "MiR-204 low", "time": 9, "n": 6}, {"group": "MiR-204 low", "time": 10, "n": 4}, {"group": "MiR-204 low", "time": 11, "n": 1}, {"group": "MiR-204 low", "time": 12, "n": 1}
 ]
},
"resolve": {"scale": {"color": "independent"}, "legend": {"color": "independent"}},
"spacing": 27,
"vconcat": [
 {
  "hconcat": [
   {
    "width": 554, "height": 562,
    "title": {"text": "Indian cohort", "dx": -10, "offset": -46},
    "view": {"stroke": "#333333", "strokeWidth": 2.5},
    "encoding": {
     "x": {"field": "group", "type": "nominal", "sort": null, "scale": {"domain": ["M0 (n=78)", "M+ (n=56)"], "paddingInner": 0.25, "paddingOuter": 0.225}, "axis": {"title": null, "labelAngle": 0, "labelFontSize": 24, "tickSize": 6, "labelPadding": 10}}
    },
    "layer": [
     {"data": {"name": "boxA"}, "mark": {"type": "rule", "color": "#333333", "strokeWidth": 2.5},
      "encoding": {"y": {"field": "lower", "type": "quantitative", "title": "MiR-204 Expression (Log₂)", "scale": {"domain": [-5.33, 10.44], "nice": false, "zero": false}, "axis": {"values": [-5, 0, 5, 10], "format": "d", "labelExpr": "replace(datum.label, '−', '-')", "labelFontSize": 23, "titleFontSize": 26, "tickSize": 6, "labelPadding": 7, "titlePadding": 10}}, "y2": {"field": "upper"}}},
     {"data": {"name": "boxA"}, "mark": {"type": "bar", "stroke": "#333333", "strokeWidth": 2.5},
      "encoding": {"y": {"field": "q1", "type": "quantitative", "title": "MiR-204 Expression (Log₂)"}, "y2": {"field": "q3"},
       "color": {"field": "group", "type": "nominal", "scale": {"domain": ["M0 (n=78)", "M+ (n=56)"], "range": ["#3a53a4", "#ed2224"]}, "legend": null}}},
     {"data": {"name": "boxA"}, "mark": {"type": "tick", "color": "#333333", "thickness": 3.5, "size": 189, "opacity": 1},
      "encoding": {"y": {"field": "median", "type": "quantitative", "title": "MiR-204 Expression (Log₂)"}}},
     {"data": {"name": "boxA"}, "mark": {"type": "tick", "color": "#333333", "thickness": 2.5, "size": 126, "opacity": 1},
      "encoding": {"y": {"field": "upper", "type": "quantitative", "title": "MiR-204 Expression (Log₂)"}}},
     {"data": {"name": "boxA"}, "mark": {"type": "tick", "color": "#333333", "thickness": 2.5, "size": 126, "opacity": 1},
      "encoding": {"y": {"field": "lower", "type": "quantitative", "title": "MiR-204 Expression (Log₂)"}}},
     {"data": {"name": "outA"}, "mark": {"type": "point", "filled": true, "color": "#333333", "size": 64, "opacity": 1},
      "encoding": {"y": {"field": "value", "type": "quantitative", "title": "MiR-204 Expression (Log₂)"}}},
     {"data": {"values": [{"label": "p=0.024"}]}, "mark": {"type": "text", "align": "right", "baseline": "middle", "fontSize": 24, "dx": -15},
      "encoding": {"x": {"value": "width"}, "y": {"datum": -4.82}, "text": {"field": "label"}}},
     {"data": {"values": [{"label": "A"}]}, "mark": {"type": "text", "align": "left", "baseline": "alphabetic", "fontSize": 40, "dx": -120},
      "encoding": {"x": {"value": 0}, "y": {"datum": 10.94}, "text": {"field": "label"}}}
    ]
   },
   {
    "width": 558, "height": 556,
    "title": {"text": "MAGIC cohort", "dx": -5, "offset": -44},
    "view": {"stroke": "black", "strokeWidth": 2.5},
    "encoding": {
     "x": {"field": "group", "type": "nominal", "sort": null, "scale": {"domain": ["M0 (n=220)", "M+ (n=144)"], "paddingInner": 0.25, "paddingOuter": 0.225}, "axis": {"title": null, "labelAngle": 0, "labelFontSize": 24, "tickSize": 6, "labelPadding": 8}}
    },
    "layer": [
     {"data": {"name": "boxB"}, "mark": {"type": "rule", "color": "black", "strokeWidth": 2},
      "encoding": {"y": {"field": "lower", "type": "quantitative", "title": "MiR-204 Expression (Log₂)", "scale": {"domain": [-1.795, 3.595], "nice": false, "zero": false}, "axis": {"values": [-1, 0, 1, 2, 3], "format": "d", "labelExpr": "replace(datum.label, '−', '-')", "labelFontSize": 23, "labelColor": "#333333", "titleFontSize": 26, "tickSize": 5, "labelPadding": 3, "titlePadding": 14}}, "y2": {"field": "upper"}}},
     {"data": {"name": "boxB"}, "mark": {"type": "bar", "stroke": "black", "strokeWidth": 2.5},
      "encoding": {"y": {"field": "q1", "type": "quantitative", "title": "MiR-204 Expression (Log₂)"}, "y2": {"field": "q3"},
       "color": {"field": "group", "type": "nominal", "scale": {"domain": ["M0 (n=220)", "M+ (n=144)"], "range": ["#2a2a88", "#fe0000"]}, "legend": null}}},
     {"data": {"name": "boxB"}, "mark": {"type": "tick", "color": "black", "thickness": 4.5, "size": 190, "opacity": 1},
      "encoding": {"y": {"field": "median", "type": "quantitative", "title": "MiR-204 Expression (Log₂)"}}},
     {"data": {"name": "boxB"}, "mark": {"type": "tick", "color": "black", "thickness": 2.5, "size": 127, "opacity": 1},
      "encoding": {"y": {"field": "upper", "type": "quantitative", "title": "MiR-204 Expression (Log₂)"}}},
     {"data": {"name": "boxB"}, "mark": {"type": "tick", "color": "black", "thickness": 2.5, "size": 127, "opacity": 1},
      "encoding": {"y": {"field": "lower", "type": "quantitative", "title": "MiR-204 Expression (Log₂)"}}},
     {"data": {"name": "outB"}, "mark": {"type": "point", "filled": true, "color": "black", "size": 30, "opacity": 1},
      "encoding": {"y": {"field": "value", "type": "quantitative", "title": "MiR-204 Expression (Log₂)"}}},
     {"data": {"values": [{"label": "p=0.1"}]}, "mark": {"type": "text", "align": "right", "baseline": "middle", "fontSize": 24, "dx": -11},
      "encoding": {"x": {"value": "width"}, "y": {"datum": -1.6}, "text": {"field": "label"}}},
     {"data": {"values": [{"label": "B"}]}, "mark": {"type": "text", "align": "left", "baseline": "alphabetic", "fontSize": 40, "dx": -87},
      "encoding": {"x": {"value": 0}, "y": {"datum": 3.78}, "text": {"field": "label"}}}
    ]
   }
  ],
  "spacing": 75,
  "resolve": {"scale": {"color": "independent"}, "legend": {"color": "independent"}}
 },
 {
  "vconcat": [
   {
    "hconcat": [
     {
      "vconcat": [
       {
        "width": 556, "height": 462,
        "title": {"text": "Indian cohort", "dx": -6, "offset": -37},
        "layer": [
         {"data": {"name": "kmC"}, "mark": {"type": "line", "interpolate": "step-after", "strokeWidth": 4.5},
          "encoding": {
           "x": {"field": "time", "type": "quantitative", "title": "Overall Survival (years)", "scale": {"domain": [-0.6, 12.6], "nice": false, "zero": false}, "axis": {"values": [0,1,2,3,4,5,6,7,8,9,10,11,12], "labelFontSize": 27, "titleFontSize": 28, "tickSize": 6, "labelPadding": 2, "titlePadding": 5, "titleX": 252}},
           "y": {"field": "surv", "type": "quantitative", "title": "OS probability", "scale": {"domain": [-0.05, 1.05], "nice": false, "zero": false}, "axis": {"values": [0, 0.25, 0.5, 0.75, 1], "format": ".2f", "labelFontSize": 27, "titleFontSize": 26, "tickSize": 6, "labelPadding": 4, "titlePadding": 11}},
           "color": {"field": "group", "type": "nominal", "scale": {"domain": ["MiR-204 low", "MiR-204 high"], "range": ["#2e3192", "#ff0000"]}, "legend": {"title": null, "orient": "bottom-left", "offset": 12, "padding": 0, "labelFontSize": 23, "symbolType": "stroke", "symbolStrokeWidth": 6, "symbolSize": 256, "rowPadding": 1, "labelOffset": 6}}}},
         {"data": {"name": "censC"}, "mark": {"type": "point", "shape": "M-1,0H1M0,-1V1", "filled": false, "color": "black", "strokeWidth": 2.2, "size": 110, "opacity": 1},
          "encoding": {"x": {"field": "time", "type": "quantitative", "title": "Overall Survival (years)"}, "y": {"field": "surv", "type": "quantitative", "title": "OS probability"}}},
         {"data": {"values": [{"label": "p = 5.35e-05"}]}, "mark": {"type": "text", "align": "right", "baseline": "middle", "fontSize": 25},
          "encoding": {"x": {"datum": 12.35}, "y": {"datum": 0}, "text": {"field": "label"}}},
         {"data": {"values": [{"label": "C"}]}, "mark": {"type": "text", "align": "left", "baseline": "alphabetic", "fontSize": 40},
          "encoding": {"x": {"datum": -3.46}, "y": {"datum": 1.078}, "text": {"field": "label"}}}
        ]
       },
       {
        "width": 556, "height": 62,
        "view": {"stroke": null},
        "data": {"name": "riskC"},
        "mark": {"type": "text", "fontSize": 20},
        "encoding": {
         "x": {"field": "time", "type": "quantitative", "scale": {"domain": [-0.6, 12.6], "nice": false, "zero": false}, "axis": null},
         "y": {"field": "group", "type": "nominal", "sort": null, "scale": {"type": "point", "domain": ["MiR-204 high", "MiR-204 low"], "padding": 0.5}, "axis": {"title": null, "ticks": false, "labelFontSize": 21, "labelPadding": 9}},
         "text": {"field": "n", "type": "quantitative"}
        }
       }
      ],
      "spacing": 70,
      "bounds": "flush",
      "resolve": {"scale": {"color": "independent"}, "legend": {"color": "independent"}}
     },
     {
      "vconcat": [
       {
        "width": 540, "height": 462,
        "title": {"text": "MAGIC cohort", "dx": -13, "offset": -40},
        "layer": [
         {"data": {"name": "kmD"}, "mark": {"type": "line", "interpolate": "step-after", "strokeWidth": 4.5},
          "encoding": {
           "x": {"field": "time", "type": "quantitative", "title": "Overall Survival (years)", "scale": {"domain": [-0.6, 12.6], "nice": false, "zero": false}, "axis": {"values": [0,1,2,3,4,5,6,7,8,9,10,11,12], "labelFontSize": 27, "titleFontSize": 28, "tickSize": 6, "labelPadding": 2, "titlePadding": 5, "titleX": 231}},
           "y": {"field": "surv", "type": "quantitative", "title": "OS probability", "scale": {"domain": [-0.05, 1.05], "nice": false, "zero": false}, "axis": {"values": [0, 0.25, 0.5, 0.75, 1], "format": ".2f", "labelFontSize": 27, "titleFontSize": 26, "tickSize": 6, "labelPadding": 4, "titlePadding": 11}},
           "color": {"field": "group", "type": "nominal", "scale": {"domain": ["MiR-204 low", "MiR-204 high"], "range": ["#2e3192", "#ff0000"]}, "legend": {"title": null, "orient": "bottom-left", "offset": 12, "padding": 0, "labelFontSize": 23, "symbolType": "stroke", "symbolStrokeWidth": 6, "symbolSize": 256, "rowPadding": 1, "labelOffset": 6}}}},
         {"data": {"name": "censD"}, "mark": {"type": "point", "shape": "M-1,0H1M0,-1V1", "filled": false, "color": "black", "strokeWidth": 2.2, "size": 110, "opacity": 1},
          "encoding": {"x": {"field": "time", "type": "quantitative", "title": "Overall Survival (years)"}, "y": {"field": "surv", "type": "quantitative", "title": "OS probability"}}},
         {"data": {"values": [{"label": "p = 6.22e-06"}]}, "mark": {"type": "text", "align": "right", "baseline": "middle", "fontSize": 25},
          "encoding": {"x": {"datum": 12.35}, "y": {"datum": 0}, "text": {"field": "label"}}},
         {"data": {"values": [{"label": "D"}]}, "mark": {"type": "text", "align": "left", "baseline": "alphabetic", "fontSize": 40},
          "encoding": {"x": {"datum": -3.17}, "y": {"datum": 1.078}, "text": {"field": "label"}}}
        ]
       },
       {
        "width": 540, "height": 62,
        "view": {"stroke": null},
        "data": {"name": "riskD"},
        "mark": {"type": "text", "fontSize": 20},
        "encoding": {
         "x": {"field": "time", "type": "quantitative", "scale": {"domain": [-0.6, 12.6], "nice": false, "zero": false}, "axis": null},
         "y": {"field": "group", "type": "nominal", "sort": null, "scale": {"type": "point", "domain": ["MiR-204 high", "MiR-204 low"], "padding": 0.5}, "axis": {"title": null, "ticks": false, "labelFontSize": 21, "labelPadding": 9}},
         "text": {"field": "n", "type": "quantitative"}
        }
       }
      ],
      "spacing": 70,
      "bounds": "flush",
      "resolve": {"scale": {"color": "independent"}, "legend": {"color": "independent"}}
     }
    ],
    "spacing": 44,
    "resolve": {"scale": {"color": "independent"}, "legend": {"color": "independent"}}
   },
   {
    "hconcat": [
     {
      "vconcat": [
       {
        "width": 554, "height": 456,
        "title": {"text": "MAGIC cohort", "dx": 9, "offset": -40},
        "layer": [
         {"data": {"name": "kmE"}, "mark": {"type": "line", "interpolate": "step-after", "strokeWidth": 4.5},
          "encoding": {
           "x": {"field": "time", "type": "quantitative", "title": "Overall Survival (years)", "scale": {"domain": [-0.77, 12.6], "nice": false, "zero": false}, "axis": {"values": [0,1,2,3,4,5,6,7,8,9,10,11,12], "labelFontSize": 27, "titleFontSize": 28, "tickSize": 6, "labelPadding": 2, "titlePadding": 5, "titleX": 215}},
           "y": {"field": "surv", "type": "quantitative", "title": "OS probability", "scale": {"domain": [-0.05, 1.05], "nice": false, "zero": false}, "axis": {"values": [0, 0.25, 0.5, 0.75, 1], "format": ".2f", "labelFontSize": 27, "titleFontSize": 26, "tickSize": 6, "labelPadding": 4, "titlePadding": 11}},
           "color": {"field": "group", "type": "nominal", "scale": {"domain": ["MiR-204 low", "MiR-204 high"], "range": ["#2e3192", "#ff0000"]}, "legend": {"title": null, "orient": "bottom-left", "offset": 12, "padding": 0, "labelFontSize": 23, "symbolType": "stroke", "symbolStrokeWidth": 6, "symbolSize": 256, "rowPadding": 1, "labelOffset": 6}}}},
         {"data": {"name": "censE"}, "mark": {"type": "point", "shape": "M-1,0H1M0,-1V1", "filled": false, "color": "black", "strokeWidth": 2.2, "size": 110, "opacity": 1},
          "encoding": {"x": {"field": "time", "type": "quantitative", "title": "Overall Survival (years)"}, "y": {"field": "surv", "type": "quantitative", "title": "OS probability"}}},
         {"data": {"values": [{"label": "p = 0.0729"}]}, "mark": {"type": "text", "align": "right", "baseline": "middle", "fontSize": 25},
          "encoding": {"x": {"datum": 12.39}, "y": {"datum": 0}, "text": {"field": "label"}}},
         {"data": {"values": [{"label": "E"}]}, "mark": {"type": "text", "align": "left", "baseline": "alphabetic", "fontSize": 40},
          "encoding": {"x": {"datum": -3.57}, "y": {"datum": 1.0755}, "text": {"field": "label"}}}
        ]
       },
       {
        "width": 554, "height": 62,
        "view": {"stroke": null},
        "data": {"name": "riskE"},
        "mark": {"type": "text", "fontSize": 20},
        "encoding": {
         "x": {"field": "time", "type": "quantitative", "scale": {"domain": [-0.77, 12.6], "nice": false, "zero": false}, "axis": null},
         "y": {"field": "group", "type": "nominal", "sort": null, "scale": {"type": "point", "domain": ["MiR-204 high", "MiR-204 low"], "padding": 0.5}, "axis": {"title": null, "ticks": false, "labelFontSize": 21, "labelPadding": 9}},
         "text": {"field": "n", "type": "quantitative"}
        }
       }
      ],
      "spacing": 71,
      "bounds": "flush",
      "resolve": {"scale": {"color": "independent"}, "legend": {"color": "independent"}}
     },
     {
      "vconcat": [
       {
        "width": 541, "height": 456,
        "title": {"text": "MAGIC cohort", "dx": -8, "offset": -40},
        "layer": [
         {"data": {"name": "kmF"}, "mark": {"type": "line", "interpolate": "step-after", "strokeWidth": 4.5},
          "encoding": {
           "x": {"field": "time", "type": "quantitative", "title": "Overall Survival (years)", "scale": {"domain": [-0.6, 12.6], "nice": false, "zero": false}, "axis": {"values": [0,1,2,3,4,5,6,7,8,9,10,11,12], "labelFontSize": 27, "titleFontSize": 28, "tickSize": 6, "labelPadding": 2, "titlePadding": 5, "titleX": 228}},
           "y": {"field": "surv", "type": "quantitative", "title": "OS probability", "scale": {"domain": [-0.05, 1.05], "nice": false, "zero": false}, "axis": {"values": [0, 0.25, 0.5, 0.75, 1], "format": ".2f", "labelFontSize": 27, "titleFontSize": 26, "tickSize": 6, "labelPadding": 4, "titlePadding": 11}},
           "color": {"field": "group", "type": "nominal", "scale": {"domain": ["MiR-204 low", "MiR-204 high"], "range": ["#2e3192", "#ff0000"]}, "legend": {"title": null, "orient": "bottom-left", "offset": 12, "padding": 0, "labelFontSize": 23, "symbolType": "stroke", "symbolStrokeWidth": 6, "symbolSize": 256, "rowPadding": 1, "labelOffset": 6}}}},
         {"data": {"name": "censF"}, "mark": {"type": "point", "shape": "M-1,0H1M0,-1V1", "filled": false, "color": "black", "strokeWidth": 2.2, "size": 110, "opacity": 1},
          "encoding": {"x": {"field": "time", "type": "quantitative", "title": "Overall Survival (years)"}, "y": {"field": "surv", "type": "quantitative", "title": "OS probability"}}},
         {"data": {"values": [{"label": "p = 0.00016"}]}, "mark": {"type": "text", "align": "right", "baseline": "middle", "fontSize": 25},
          "encoding": {"x": {"datum": 12.35}, "y": {"datum": 0}, "text": {"field": "label"}}},
         {"data": {"values": [{"label": "F"}]}, "mark": {"type": "text", "align": "left", "baseline": "alphabetic", "fontSize": 40},
          "encoding": {"x": {"datum": -3.09}, "y": {"datum": 1.07}, "text": {"field": "label"}}}
        ]
       },
       {
        "width": 541, "height": 64,
        "view": {"stroke": null},
        "data": {"name": "riskF"},
        "mark": {"type": "text", "fontSize": 20},
        "encoding": {
         "x": {"field": "time", "type": "quantitative", "scale": {"domain": [-0.6, 12.6], "nice": false, "zero": false}, "axis": null},
         "y": {"field": "group", "type": "nominal", "sort": null, "scale": {"type": "point", "domain": ["MiR-204 high", "MiR-204 low"], "padding": 0.5}, "axis": {"title": null, "ticks": false, "labelFontSize": 21, "labelPadding": 9}},
         "text": {"field": "n", "type": "quantitative"}
        }
       }
      ],
      "spacing": 67,
      "bounds": "flush",
      "resolve": {"scale": {"color": "independent"}, "legend": {"color": "independent"}}
     }
    ],
    "spacing": 42,
    "resolve": {"scale": {"color": "independent"}, "legend": {"color": "independent"}}
   }
  ],
  "spacing": 40,
  "resolve": {"scale": {"color": "independent"}, "legend": {"color": "independent"}}
 }
]
}
